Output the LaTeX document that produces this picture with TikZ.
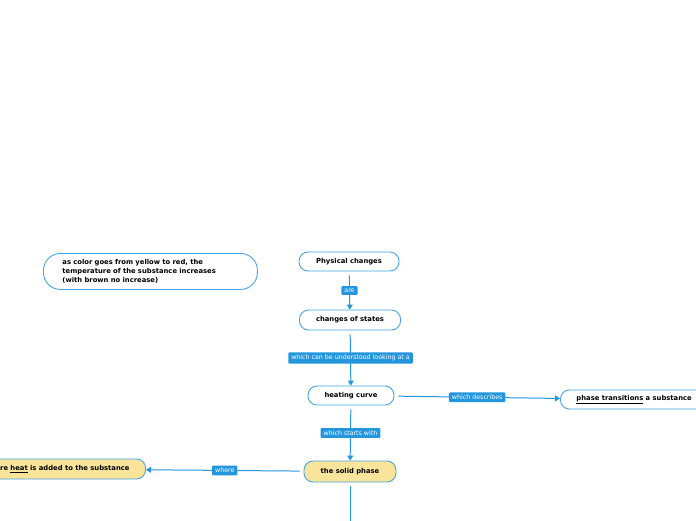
\documentclass[tikz,border=0pt]{standalone}
\usepackage{fontspec}
\setmainfont{DejaVu Sans}
\usetikzlibrary{arrows.meta}
\definecolor{lineblue}{RGB}{36,150,222}
\definecolor{boxblue}{RGB}{70,165,230}
\definecolor{phaseyellow}{RGB}{248,229,155}
\tikzset{
  topic/.style={draw=boxblue, line width=0.9pt, fill=white, rounded corners=9pt,
    font=\fontsize{6.8}{8}\selectfont\bfseries, text=black, inner sep=0pt},
  conn/.style={draw=lineblue, line width=1pt, shorten <=4pt,
    -{Triangle[width=6pt,length=5pt]}},
  plainconn/.style={draw=lineblue, line width=1pt, shorten <=4pt},
  lbl/.style={fill=lineblue, text=white, rounded corners=1pt, inner xsep=3pt,
    inner ysep=2.5pt, font=\fontsize{6.3}{7}\selectfont}
}
\begin{document}
\begin{tikzpicture}[x=1pt,y=-1pt]
\useasboundingbox (0,0) rectangle (696,520);
\clip (0,0) rectangle (696,520);
\fill[white] (0,0) rectangle (696,520);

\node[topic, minimum width=100pt, minimum height=19pt] (pc) at (349,261.5) {Physical changes};
\node[topic, minimum width=101pt, minimum height=20pt] (cs) at (350,320) {changes of states};
\node[topic, minimum width=86pt, minimum height=19pt] (hc) at (351,395.5) {heating curve};
\node[topic, fill=phaseyellow, minimum width=92pt, minimum height=21pt] (sp) at (350,471.5) {the solid phase};
\node[topic, fill=phaseyellow, anchor=east, inner xsep=16pt, minimum height=20pt] (heat) at (146,469) {where \underline{heat} is added to the substance};
\node[topic, anchor=west, inner xsep=16pt, minimum height=19pt] (pt) at (560,399.5) {\underline{phase transitions} a substance};
\node[topic, rounded corners=17pt, anchor=north west, minimum width=214pt, minimum height=36pt, text width=176pt, inner xsep=19pt, align=left, font=\fontsize{6.8}{9}\selectfont\bfseries] (note) at (43,253) {as color goes from yellow to red, the\\temperature of the substance increases\\(with brown no increase)};

\coordinate (bot) at (350,530);

\draw[conn] (pc) -- node[lbl]{are} (cs);
\draw[conn] (cs) -- node[lbl]{which can be understood looking at a} (hc);
\draw[conn] (hc) -- node[lbl]{which starts with} (sp);
\draw[conn] (hc) -- node[lbl]{which describes} (pt);
\draw[conn] (sp) -- node[lbl]{where} (heat);
\draw[plainconn] (sp) -- (bot);
\end{tikzpicture}
\end{document}
